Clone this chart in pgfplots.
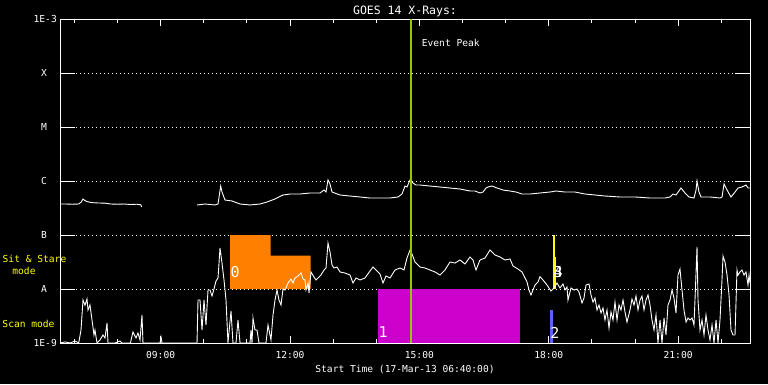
\documentclass[border=0pt]{standalone}
\usepackage{pgfplots}
\pgfplotsset{compat=1.18}
\usepackage{fontspec}
\setmainfont{DejaVu Sans Mono}
\definecolor{ssorange}{RGB}{255,128,0}
\definecolor{scanmag}{RGB}{204,0,204}
\definecolor{scanblue}{RGB}{96,96,255}
\definecolor{peakgreen}{RGB}{150,200,0}
\definecolor{ssyellow}{RGB}{255,255,0}
\newcommand{\tf}{\fontsize{9.6}{11}\selectfont}
\begin{document}
\begin{tikzpicture}[x=1pt,y=1pt]
\path[use as bounding box] (0,0) rectangle (768,384);
\fill[black] (0,0) rectangle (768,384);
\begin{axis}[
  at={(60pt,41pt)}, anchor=south west,
  scale only axis, width=690pt, height=324pt,
  xmin=6.6667, xmax=22.6667, ymin=-9, ymax=-3,
  axis line style={white, line width=0.9pt},
  tick align=inside,
  xtick={9,12,15,18,21},
  xticklabels={09:00,12:00,15:00,18:00,21:00},
  minor xtick={7,8,10,11,13,14,16,17,19,20,22},
  xtick style={white, line width=0.9pt, /pgfplots/major tick length=7pt, /pgfplots/minor tick length=4pt},
  ytick={-9,-8,-7,-6,-5,-4,-3},
  yticklabels={1E-9, A\hspace*{10pt}, B\hspace*{10pt}, C\hspace*{10pt}, M\hspace*{10pt}, X\hspace*{10pt}, 1E-3},
  ytick style={white, line width=0.9pt, /pgfplots/major tick length=15pt},
  ymajorgrids,
  major grid style={white, line width=0.9pt, dash pattern=on 0.9pt off 3.1pt},
  xticklabel style={font=\tf, text=white, anchor=base, inner sep=0pt, yshift=-15.5pt},
  yticklabel style={font=\tf, text=white, anchor=east, inner sep=0pt, xshift=-3pt},
  title={GOES 14 X-Rays:},
  title style={font=\fontsize{11.5}{13}\selectfont, text=white, at={(0.5,1)}, anchor=base, inner sep=0pt, yshift=-1pt},
  xlabel={Start Time (17-Mar-13 06:40:00)},
  xlabel style={font=\tf, text=white, at={(0.5,0)}, anchor=base, inner sep=0pt, yshift=-29pt},
  clip=true,
]
% Sit & Stare 0 (orange)
\addplot[fill=ssorange, draw=none] coordinates {(10.609,-8) (10.609,-7) (11.553,-7) (11.553,-7.383) (12.480,-7.383) (12.480,-8)} -- cycle;
% Scan 1 (magenta)
\addplot[fill=scanmag, draw=none] coordinates {(14.041,-9) (14.041,-8) (17.333,-8) (17.333,-9)} -- cycle;
% Scan 2 (blue)
\addplot[scanblue, line width=3pt] coordinates {(18.064,-9) (18.064,-8.389)};
% Sit & Stare 3/4 (yellow)
\addplot[ssyellow, line width=1.8pt] coordinates {(18.126,-8) (18.126,-7)};
\addplot[ssyellow, line width=3pt] coordinates {(18.135,-8) (18.135,-7.40)};
% long channel
\addplot[white, line width=0.9pt] coordinates {
(6.667,-6.426)(6.80,-6.426)(6.95,-6.43)(7.10,-6.426)(7.16,-6.39)(7.20,-6.333)(7.24,-6.36)(7.29,-6.38)(7.40,-6.40)(7.55,-6.407)(7.70,-6.41)(7.85,-6.426)(8.0,-6.43)(8.15,-6.426)(8.30,-6.435)(8.45,-6.43)(8.54,-6.44)(8.56,-6.48)
};
\addplot[white, line width=0.9pt] coordinates {
(9.844,-6.444)(10.029,-6.426)(10.261,-6.444)(10.331,-6.426)(10.393,-6.093)(10.423,-6.204)(10.493,-6.352)(10.655,-6.37)(10.841,-6.426)(11.073,-6.444)(11.305,-6.426)(11.467,-6.389)(11.652,-6.333)(11.838,-6.259)(12.0,-6.241)(12.232,-6.241)(12.464,-6.222)(12.696,-6.222)(12.789,-6.167)(12.835,-6.204)(12.881,-5.981)(12.928,-6.056)(12.974,-6.204)(13.160,-6.259)(13.391,-6.278)(13.623,-6.296)(13.855,-6.315)(14.087,-6.315)(14.319,-6.315)(14.505,-6.296)(14.597,-6.241)(14.667,-6.093)(14.713,-6.111)(14.783,-5.981)(14.852,-6.037)(14.922,-6.074)(15.014,-6.074)(15.246,-6.093)(15.478,-6.111)(15.710,-6.130)(15.942,-6.148)(16.174,-6.185)(16.290,-6.185)(16.406,-6.222)(16.475,-6.204)(16.545,-6.130)(16.591,-6.111)(16.684,-6.093)(16.800,-6.130)(16.939,-6.167)(17.101,-6.185)(17.241,-6.204)(17.380,-6.241)(17.565,-6.241)(17.797,-6.222)(18.029,-6.204)(18.168,-6.185)(18.377,-6.204)(18.609,-6.204)(18.841,-6.241)(19.072,-6.259)(19.304,-6.278)(19.652,-6.296)(20.0,-6.296)(20.348,-6.315)(20.696,-6.315)(20.812,-6.296)(20.881,-6.241)(20.951,-6.259)(21.067,-6.130)(21.160,-6.222)(21.252,-6.296)(21.368,-6.315)(21.415,-6.167)(21.438,-6.0)(21.484,-6.204)(21.531,-6.296)(21.739,-6.296)(21.971,-6.315)(22.018,-6.296)(22.064,-6.056)(22.134,-6.167)(22.226,-6.296)(22.319,-6.204)(22.389,-6.130)(22.481,-6.111)(22.574,-6.074)(22.620,-6.130)(22.667,-6.130)
};
% short channel
\addplot[white, line width=0.9pt] coordinates {
(6.667,-9)(6.783,-8.98)(6.899,-9)(7.015,-8.963)(7.10,-9)(7.154,-8.759)(7.200,-8.204)(7.246,-8.30)(7.293,-8.185)(7.316,-8.389)(7.362,-8.296)(7.409,-8.574)(7.455,-8.852)(7.478,-8.759)(7.525,-9)(7.594,-8.944)(7.664,-8.852)(7.710,-8.907)(7.757,-8.630)(7.780,-9)(7.942,-9)(8.058,-8.963)(8.10,-9)(8.30,-9)(8.359,-8.796)(8.429,-8.907)(8.475,-8.815)(8.522,-8.944)(8.568,-8.481)(8.591,-9)(8.986,-9)(9.009,-8.889)(9.032,-9)(9.844,-9)(9.867,-8.204)(9.913,-8.204)(9.960,-8.759)(10.006,-8.204)(10.052,-8.667)(10.099,-8.019)(10.145,-8.019)(10.191,-8.130)(10.238,-8.0)(10.284,-7.852)(10.331,-7.796)(10.377,-7.241)(10.423,-7.519)(10.470,-7.833)(10.516,-8.204)(10.562,-9)(10.632,-8.407)(10.678,-9)(10.748,-9)(10.794,-8.574)(10.841,-9)(11.073,-9)(11.096,-8.759)(11.119,-9)(11.142,-8.537)(11.188,-8.759)(11.235,-8.759)(11.281,-9)(11.443,-9)(11.490,-8.667)(11.559,-8.944)(11.606,-8.481)(11.652,-8.204)(11.699,-8.019)(11.745,-8.204)(11.791,-8.296)(11.838,-8.0)(11.884,-8.019)(11.954,-7.889)(12.023,-7.815)(12.070,-7.889)(12.116,-7.796)(12.186,-7.759)(12.255,-7.704)(12.301,-7.815)(12.348,-7.833)(12.371,-8.019)(12.418,-7.889)(12.441,-8.074)(12.487,-7.685)(12.557,-7.778)(12.603,-7.833)(12.649,-7.796)(12.719,-7.741)(12.789,-7.648)(12.835,-7.611)(12.881,-7.148)(12.928,-7.315)(12.974,-7.556)(13.020,-7.611)(13.090,-7.593)(13.160,-7.685)(13.275,-7.704)(13.391,-7.741)(13.461,-7.889)(13.530,-7.796)(13.623,-7.833)(13.739,-7.796)(13.855,-7.667)(13.925,-7.593)(13.994,-7.648)(14.087,-7.722)(14.157,-7.889)(14.226,-7.759)(14.319,-7.796)(14.435,-7.648)(14.551,-7.611)(14.644,-7.648)(14.713,-7.426)(14.783,-7.278)(14.829,-7.352)(14.899,-7.5)(15.014,-7.593)(15.130,-7.611)(15.246,-7.648)(15.362,-7.685)(15.478,-7.741)(15.594,-7.648)(15.710,-7.5)(15.826,-7.519)(15.942,-7.463)(16.058,-7.537)(16.174,-7.407)(16.243,-7.463)(16.313,-7.648)(16.406,-7.463)(16.522,-7.426)(16.638,-7.278)(16.754,-7.370)(16.870,-7.407)(16.986,-7.463)(17.101,-7.444)(17.171,-7.574)(17.287,-7.630)(17.380,-7.685)(17.449,-7.796)(17.496,-7.870)(17.542,-8.019)(17.588,-8.111)(17.681,-7.926)(17.751,-7.870)
(17.797,-7.772)(17.867,-7.833)(17.959,-7.926)(18.052,-8.037)(18.122,-7.981)(18.191,-7.889)(18.261,-7.981)(18.330,-7.907)(18.377,-8.019)(18.423,-7.963)(18.446,-8.204)(18.516,-7.981)(18.586,-8.019)(18.655,-8.0)(18.701,-8.056)(18.771,-8.259)(18.817,-8.167)(18.864,-7.926)(18.933,-7.907)(18.980,-8.111)(19.026,-8.241)(19.072,-8.167)(19.119,-8.389)(19.165,-8.296)(19.212,-8.444)(19.258,-8.352)(19.304,-8.574)(19.351,-8.389)(19.397,-8.722)(19.443,-8.426)(19.490,-8.574)(19.536,-8.241)(19.583,-8.574)(19.629,-8.296)(19.675,-8.389)(19.722,-8.204)(19.768,-8.426)(19.814,-8.611)(19.884,-8.389)(19.930,-8.185)(19.977,-8.296)(20.023,-8.130)(20.070,-8.389)(20.116,-8.204)(20.162,-8.130)(20.209,-8.389)(20.255,-8.204)(20.302,-8.111)(20.348,-8.296)(20.394,-8.574)(20.441,-8.759)(20.487,-8.481)(20.533,-9.0)(20.580,-8.574)(20.626,-9.0)(20.673,-8.537)(20.719,-8.852)(20.765,-8.296)(20.812,-8.204)(20.858,-8.019)(20.904,-8.167)(20.951,-8.444)(20.997,-7.741)(21.043,-7.630)(21.090,-8.019)(21.136,-8.389)(21.183,-8.611)(21.229,-8.537)(21.275,-8.574)(21.322,-8.537)(21.368,-8.667)(21.391,-8.204)(21.438,-7.222)(21.461,-8.204)(21.507,-8.759)(21.554,-8.574)(21.600,-8.852)(21.646,-8.481)(21.693,-8.759)(21.739,-8.944)(21.786,-8.667)(21.832,-9.0)(21.879,-8.574)(21.925,-9.0)(21.971,-8.574)(22.017,-7.833)(22.041,-7.389)(22.087,-7.5)(22.134,-7.741)(22.180,-8.111)(22.226,-8.759)(22.273,-8.852)(22.319,-8.852)(22.365,-7.648)(22.389,-7.741)(22.435,-7.685)(22.481,-7.648)(22.528,-7.741)(22.574,-7.685)(22.620,-7.926)(22.644,-7.741)(22.667,-7.889)
};
% event peak
\addplot[peakgreen, line width=2pt] coordinates {(14.806,-9) (14.806,-3)};
\node[anchor=west, text=white, font=\tf, inner sep=0pt] at (axis cs:15.054,-3.444) {Event Peak};
% region labels
\node[text=white, font=\fontsize{15}{16}\selectfont, inner sep=0pt] at (axis cs:10.725,-7.685) {0};
\node[text=white, font=\fontsize{15}{16}\selectfont, inner sep=0pt] at (axis cs:14.157,-8.796) {1};
\node[text=white, font=\fontsize{15}{16}\selectfont, inner sep=0pt] at (axis cs:18.145,-8.815) {2};
\node[text=white, font=\fontsize{15}{16}\selectfont, inner sep=0pt] at (axis cs:18.215,-7.685) {3};
\node[text=white, font=\fontsize{15}{16}\selectfont, inner sep=0pt] at (axis cs:18.215,-7.685) {4};
\end{axis}
\node[text=ssyellow, font=\tf, inner sep=0pt] at (34.5,125) {Sit \& Stare};
\node[text=ssyellow, font=\tf, inner sep=0pt] at (24,113) {mode};
\node[text=ssyellow, font=\tf, inner sep=0pt] at (28.5,60) {Scan mode};
\end{tikzpicture}
\end{document}
